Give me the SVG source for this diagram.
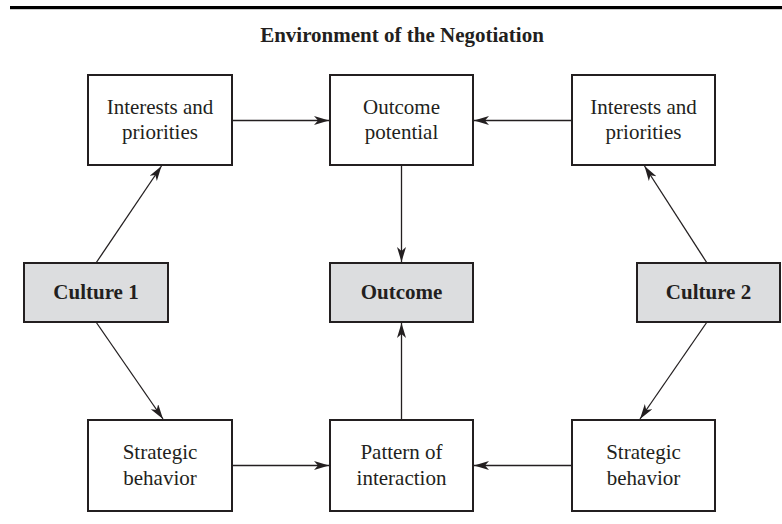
<svg xmlns="http://www.w3.org/2000/svg" width="782" height="524" viewBox="0 0 782 524">
<defs>
<style>
.box{fill:#ffffff;stroke:#231f20;stroke-width:2}
.gbox{fill:#dcdddf;stroke:#231f20;stroke-width:2}
.t{font-family:"Liberation Serif","Times New Roman",serif;font-size:21px;fill:#231f20;text-anchor:middle}
.b{font-weight:bold}
.c{stroke:#231f20;stroke-width:1.3;fill:none;marker-end:url(#ah)}
</style>
<marker id="ah" markerUnits="userSpaceOnUse" markerWidth="16" markerHeight="10" refX="15" refY="4.5" orient="auto">
<path d="M0,0 L15,4.5 L0,9 L4,4.5 Z" fill="#231f20"/>
</marker>
</defs>
<rect x="0" y="0" width="782" height="524" fill="#ffffff"/>
<rect x="10" y="6" width="772" height="3.2" fill="#000000"/>
<text class="t b" x="402" y="42">Environment of the Negotiation</text>

<g id="connectors">
<line class="c" x1="232" y1="120.5" x2="329" y2="120.5"/>
<line class="c" x1="572" y1="120.5" x2="474" y2="120.5"/>
<line class="c" x1="401.5" y1="165" x2="401.5" y2="262"/>
<line class="c" x1="401.5" y1="420" x2="401.5" y2="323"/>
<line class="c" x1="232" y1="465.5" x2="329" y2="465.5"/>
<line class="c" x1="572" y1="465.5" x2="474" y2="465.5"/>
<line class="c" x1="96" y1="263" x2="161.5" y2="166"/>
<line class="c" x1="96" y1="322" x2="163" y2="419"/>
<line class="c" x1="707" y1="263" x2="644.5" y2="166"/>
<line class="c" x1="707" y1="322" x2="640" y2="419"/>
</g>

<g id="interests1">
<rect class="box" x="88" y="75" width="144" height="90"/>
<text class="t" x="160" y="114">Interests and</text>
<text class="t" x="160" y="139">priorities</text>
</g>
<g id="outcome-potential">
<rect class="box" x="330" y="75" width="143" height="90"/>
<text class="t" x="401.5" y="114">Outcome</text>
<text class="t" x="401.5" y="139">potential</text>
</g>
<g id="interests2">
<rect class="box" x="572" y="75" width="143" height="90"/>
<text class="t" x="643.5" y="114">Interests and</text>
<text class="t" x="643.5" y="139">priorities</text>
</g>
<g id="culture1">
<rect class="gbox" x="24" y="263" width="144" height="59"/>
<text class="t b" x="96" y="299">Culture 1</text>
</g>
<g id="outcome">
<rect class="gbox" x="330" y="263" width="143" height="59"/>
<text class="t b" x="401.5" y="299">Outcome</text>
</g>
<g id="culture2">
<rect class="gbox" x="637" y="263" width="143" height="59"/>
<text class="t b" x="708.5" y="299">Culture 2</text>
</g>
<g id="strategic1">
<rect class="box" x="88" y="420" width="144" height="91"/>
<text class="t" x="160" y="459">Strategic</text>
<text class="t" x="160" y="485">behavior</text>
</g>
<g id="pattern">
<rect class="box" x="330" y="420" width="143" height="91"/>
<text class="t" x="401.5" y="459">Pattern of</text>
<text class="t" x="401.5" y="485">interaction</text>
</g>
<g id="strategic2">
<rect class="box" x="572" y="420" width="143" height="91"/>
<text class="t" x="643.5" y="459">Strategic</text>
<text class="t" x="643.5" y="485">behavior</text>
</g>
</svg>
